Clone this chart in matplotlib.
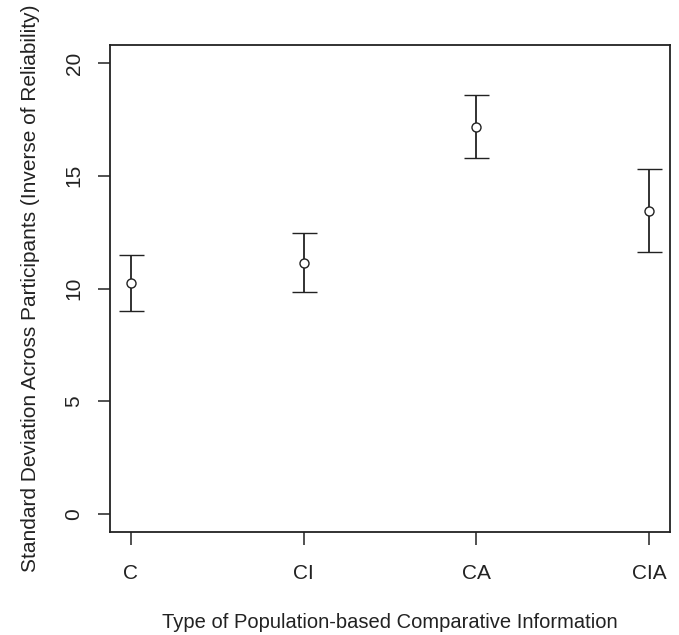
import matplotlib
matplotlib.use('Agg')
import matplotlib.pyplot as plt

plt.rcParams['font.family'] = ['Liberation Sans', 'DejaVu Sans']

# values
categories = ['C', 'CI', 'CA', 'CIA']
means = [10.24, 11.15, 17.18, 13.45]
lower = [8.98, 9.84, 15.80, 11.63]
upper = [11.50, 12.46, 18.58, 15.28]


def main():
    x = list(range(1, len(categories) + 1))
    err_lo = [m - l for m, l in zip(means, lower)]
    err_hi = [u - m for m, u in zip(means, upper)]

    fig = plt.figure(figsize=(6.79, 6.35), dpi=100)
    ax = fig.add_axes([110 / 679, 1 - 532 / 635, 560 / 679, 487 / 635])

    ax.errorbar(x, means, yerr=[err_lo, err_hi], fmt='o', mfc='white', mec='#222222',
                ms=6.5, mew=1.0, ecolor='#222222', elinewidth=1.3, capsize=9, capthick=1.3)

    ax.set_xlim(0.88, 4.12)
    ax.set_ylim(-0.8, 20.8)
    ax.set_xticks(x)
    ax.set_xticklabels(categories, fontsize=15, color='#222222')
    ax.set_yticks([0, 5, 10, 15, 20])
    ax.set_yticklabels(['0', '5', '10', '15', '20'], fontsize=15, rotation=90, va='center',
                       color='#222222')
    ax.tick_params(length=9, width=1.1, color='#222222', pad=10)
    ax.tick_params(axis='x', pad=14)
    for s in ax.spines.values():
        s.set_linewidth(1.3)
        s.set_color('#222222')

    ax.set_xlabel('Type of Population-based Comparative Information', fontsize=14.5,
                  labelpad=22, color='#222222')
    ax.set_ylabel('Standard Deviation Across Participants (Inverse of Reliability)', fontsize=15,
                  labelpad=18, color='#222222')

    fig.savefig('out.png', dpi=100)


if __name__ == '__main__':
    main()
